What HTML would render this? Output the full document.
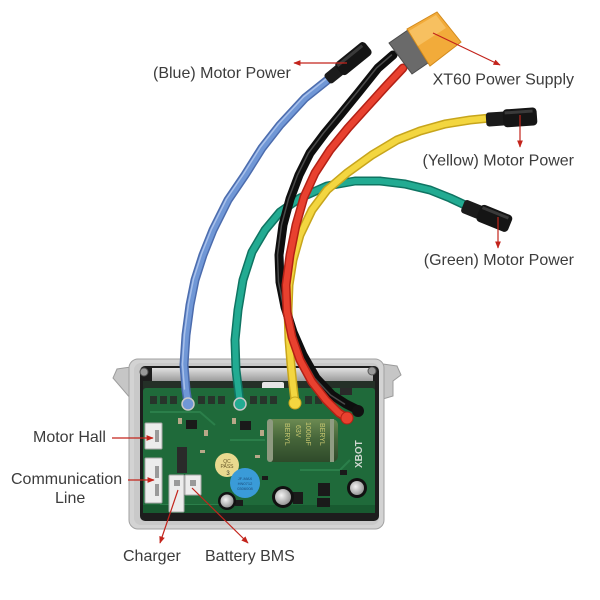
<!DOCTYPE html>
<html><head><meta charset="utf-8"><style>
html,body{margin:0;padding:0;background:#fff;}
svg{display:block;}
.lbl{font-family:"Liberation Sans",Arial,sans-serif;font-size:16px;fill:#3c3c3c;}
</style></head><body>
<svg width="600" height="600" viewBox="0 0 600 600" xmlns="http://www.w3.org/2000/svg">
<defs>
<marker id="ah" viewBox="0 0 10 10" refX="9" refY="5" markerWidth="6" markerHeight="6" orient="auto">
<path d="M0,1 L10,5 L0,9 Z" fill="#c3241c"/></marker>
<linearGradient id="hs" x1="0" y1="0" x2="0" y2="1"><stop offset="0" stop-color="#e0e0e0"/><stop offset="1" stop-color="#9c9c9c"/></linearGradient>
<linearGradient id="cap" x1="0" y1="0" x2="0" y2="1"><stop offset="0" stop-color="#6c8a52"/><stop offset=".45" stop-color="#46663a"/><stop offset="1" stop-color="#2f4a2a"/></linearGradient>
<radialGradient id="sil" cx=".4" cy=".4" r=".6"><stop offset="0" stop-color="#f4f4f4"/><stop offset="1" stop-color="#9a9a9a"/></radialGradient>
</defs>
<rect width="600" height="600" fill="#fff"/>

<!-- housing -->
<path d="M131,367 L117,369 L113,378 L131,399 Z" fill="#c6c6c6" stroke="#9c9c9c"/>
<path d="M383,364 L397,366 L401,375 L393,381 L393,396 L383,399 Z" fill="#c6c6c6" stroke="#9c9c9c"/>
<rect x="129" y="359" width="255" height="170" rx="9" fill="#d3d3d3" stroke="#a2a2a2"/>
<rect x="134" y="363" width="245" height="162" rx="7" fill="#c9c9c9"/>
<rect x="140" y="366" width="239" height="155" rx="5" fill="#1d1d1d"/>
<rect x="152" y="368" width="221" height="13" fill="url(#hs)"/>
<circle cx="144" cy="372" r="4" fill="#9a9a9a" stroke="#555"/>
<circle cx="372" cy="371" r="4" fill="#9a9a9a" stroke="#555"/>
<rect x="143" y="381" width="232" height="10" fill="#243027"/>
<rect x="262" y="382" width="22" height="10" rx="2" fill="#e6e6e6"/>
<!-- pcb -->
<rect x="143" y="388" width="232" height="125" rx="3" fill="#1f6a3a"/>
<path d="M150,412 L200,412 L215,425 M230,440 L265,440 M300,470 L340,470 L350,460 M160,505 L230,505" stroke="#2b7f4a" stroke-width="2" fill="none"/>
<rect x="143" y="505" width="232" height="8" fill="#185a30"/>
<!-- mosfet row -->
<g fill="#27352b">
<rect x="150" y="396" width="7" height="8"/><rect x="160" y="396" width="7" height="8"/><rect x="170" y="396" width="7" height="8"/><rect x="198" y="396" width="7" height="8"/><rect x="208" y="396" width="7" height="8"/><rect x="218" y="396" width="7" height="8"/><rect x="250" y="396" width="7" height="8"/><rect x="260" y="396" width="7" height="8"/><rect x="270" y="396" width="7" height="8"/><rect x="305" y="396" width="7" height="8"/><rect x="315" y="396" width="7" height="8"/>
</g>
<rect x="340" y="388" width="12" height="7" fill="#2a2a2a"/>
<!-- chips -->
<g fill="#1a1a1a">
<rect x="186" y="420" width="11" height="9"/><rect x="240" y="421" width="11" height="9"/>
<rect x="293" y="492" width="10" height="12"/><rect x="318" y="483" width="12" height="13"/><rect x="317" y="498" width="13" height="9"/>
<rect x="177" y="447" width="10" height="26" fill="#2a2a2a"/>
<rect x="235" y="500" width="8" height="6"/><rect x="340" y="470" width="7" height="5"/><rect x="262" y="476" width="6" height="4"/>
</g>
<g fill="#b8a888"><rect x="178" y="418" width="4" height="6"/><rect x="204" y="430" width="4" height="6"/><rect x="232" y="418" width="4" height="6"/><rect x="260" y="430" width="4" height="6"/><rect x="200" y="450" width="5" height="3"/><rect x="255" y="455" width="5" height="3"/></g>
<!-- connectors -->
<g fill="#ececec" stroke="#a8a8a8" stroke-width="1">
<rect x="145" y="423" width="17" height="26" rx="1"/>
<rect x="145" y="458" width="17" height="45" rx="1"/>
<rect x="169" y="475" width="15" height="37" rx="1"/>
<rect x="185" y="475" width="16" height="20" rx="1"/>
</g>
<g fill="#9a9a9a"><rect x="155" y="430" width="4" height="12"/><rect x="155" y="466" width="4" height="12"/><rect x="155" y="484" width="4" height="12"/><rect x="174" y="480" width="6" height="6"/><rect x="190" y="480" width="6" height="6"/></g>
<!-- big capacitor -->
<rect x="267" y="419" width="71" height="43" rx="6" fill="url(#cap)"/>
<rect x="267" y="419" width="6" height="43" rx="3" fill="#8e9a80"/>
<rect x="330" y="419" width="4" height="43" fill="#8f9c82"/>
<g font-family="Liberation Sans,sans-serif" font-size="7" fill="#c9c870">
<text transform="translate(285,423) rotate(90)">BERYL</text>
<text transform="translate(296,425) rotate(90)">63V</text>
<text transform="translate(306,422) rotate(90)">1000uF</text>
<text transform="translate(320,423) rotate(90)">BERYL</text>
</g>
<text transform="translate(362,468) rotate(-90)" font-family="Liberation Sans,sans-serif" font-size="10" fill="#cfd8d0" font-weight="bold">XBOT</text>
<!-- buzzer and blue -->
<circle cx="227" cy="465" r="12" fill="#e9d98f"/>
<text x="227" y="463" font-family="Liberation Sans,sans-serif" font-size="5" fill="#6a5a2a" text-anchor="middle">QC</text>
<text x="227" y="468" font-family="Liberation Sans,sans-serif" font-size="5" fill="#6a5a2a" text-anchor="middle">PASS</text>
<text x="228" y="475" font-family="Liberation Sans,sans-serif" font-size="6" fill="#3a3a2a" text-anchor="middle">3</text>
<circle cx="245" cy="483" r="15" fill="#3a9bd8"/>
<text x="245" y="480" font-family="Liberation Sans,sans-serif" font-size="4" fill="#1a4a7a" text-anchor="middle">JF-MAX</text>
<text x="245" y="485" font-family="Liberation Sans,sans-serif" font-size="4" fill="#1a4a7a" text-anchor="middle">HN0712</text>
<text x="245" y="490" font-family="Liberation Sans,sans-serif" font-size="4" fill="#1a4a7a" text-anchor="middle">0306008</text>
<!-- silver caps -->
<circle cx="227" cy="501" r="9" fill="#111"/><circle cx="227" cy="501" r="6.5" fill="url(#sil)"/>
<circle cx="283" cy="497" r="11" fill="#111"/><circle cx="283" cy="497" r="8" fill="url(#sil)"/>
<circle cx="357" cy="488" r="10" fill="#111"/><circle cx="357" cy="488" r="7" fill="url(#sil)"/>

<!-- wires -->
<g fill="none" stroke-linecap="round" stroke-linejoin="round">
<!-- green -->
<polyline points="465,205 450,198 430,190 405,184 380,181 355,181 327,186 300,198 280,212 265,230 252,252 243,280 238,310 235,340 236,370 240,403" stroke="#0f7462" stroke-width="9"/>
<polyline points="465,205 450,198 430,190 405,184 380,181 355,181 327,186 300,198 280,212 265,230 252,252 243,280 238,310 235,340 236,370 240,403" stroke="#22ab92" stroke-width="6"/>
<!-- blue -->
<polyline points="330,78 305,98 280,125 262,148 245,175 228,200 213,230 203,255 195,280 190,305 186,335 184,365 186,390 188,403" stroke="#4c6cad" stroke-width="9"/>
<polyline points="330,78 305,98 280,125 262,148 245,175 228,200 213,230 203,255 195,280 190,305 186,335 184,365 186,390 188,403" stroke="#7097d6" stroke-width="6"/>
<polyline points="330,78 305,98 280,125 262,148 245,175 228,200 213,230 203,255 195,280 190,305 186,335 184,365 186,390" stroke="#a8c0ea" stroke-width="1.5" transform="translate(-1.5,-1)"/>
<!-- yellow -->
<polyline points="490,118 470,120 445,124 420,131 397,140 372,155 347,173 327,190 312,210 300,235 293,260 289,285 288,310 289,340 291,365 293,385 295,402" stroke="#c7a51c" stroke-width="9"/>
<polyline points="490,118 470,120 445,124 420,131 397,140 372,155 347,173 327,190 312,210 300,235 293,260 289,285 288,310 289,340 291,365 293,385 295,402" stroke="#f3d640" stroke-width="6"/>
<!-- black -->
<polyline points="393,55 378,68 358,93 340,115 325,133 310,153 299,175 290,199 283,225 279,255 280,282 285,307 293,332 303,355 316,378 332,395 346,404 358,410" stroke="#0e0e0e" stroke-width="9"/>
<polyline points="393,55 378,68 358,93 340,115 325,133 310,153 299,175 290,199 283,225 279,255 280,282 285,307 293,332 303,355 316,378 332,395 346,404" stroke="#4a4a4a" stroke-width="1.5" transform="translate(-1.5,0)"/>
<!-- red -->
<polyline points="403,68 387,85 367,107 348,128 330,150 315,173 304,197 296,225 290,255 286,285 287,312 292,337 300,360 312,382 326,400 339,413 347,418" stroke="#b32015" stroke-width="9"/>
<polyline points="403,68 387,85 367,107 348,128 330,150 315,173 304,197 296,225 290,255 286,285 287,312 292,337 300,360 312,382 326,400 339,413 347,418" stroke="#e8412f" stroke-width="6"/>
</g>
<!-- wire ends on board -->
<circle cx="188" cy="404" r="6" fill="#7097d6" stroke="#c8c8c8" stroke-width="1.5"/>
<circle cx="240" cy="404" r="6" fill="#22ab92" stroke="#c8c8c8" stroke-width="1.5"/>
<circle cx="295" cy="403" r="6" fill="#f3d640" stroke="#c7a51c"/>
<circle cx="358" cy="411" r="6" fill="#111"/>
<circle cx="347" cy="418" r="6" fill="#e8412f" stroke="#b32015"/>

<!-- blue connector -->
<g transform="translate(348,63) rotate(-39)">
<rect x="-27" y="-6" width="18" height="12" rx="3" fill="#1b1b1b"/>
<rect x="-12" y="-8" width="38" height="16" rx="4" fill="#151515"/>
<rect x="-10" y="-6" width="32" height="3" fill="#3a3a3a"/>
</g>
<!-- yellow connector -->
<g transform="translate(511,118) rotate(-4)">
<rect x="-25" y="-7" width="20" height="14" rx="3" fill="#1b1b1b"/>
<rect x="-8" y="-9" width="34" height="18" rx="4" fill="#151515"/>
<rect x="-6" y="-7" width="28" height="3" fill="#3a3a3a"/>
</g>
<!-- green connector -->
<g transform="translate(486,215) rotate(22)">
<rect x="-25" y="-7" width="20" height="14" rx="3" fill="#1b1b1b"/>
<rect x="-8" y="-9" width="34" height="18" rx="4" fill="#151515"/>
<rect x="-6" y="-7" width="28" height="3" fill="#3a3a3a"/>
</g>
<!-- XT60 -->
<polygon points="389,43 408,30 428,63 412,74" fill="#6a6a6a" stroke="#4a4a4a"/>
<polygon points="407,29 437,12 461,42 430,66" fill="#f2ab3a" stroke="#d28a1c"/>
<polygon points="409,31 436,15 446,28 418,46" fill="#f7c060"/>

<!-- arrows -->
<g stroke="#c3241c" stroke-width="1.2" fill="none" marker-end="url(#ah)">
<line x1="347" y1="63" x2="294" y2="63"/>
<line x1="433" y1="33" x2="500" y2="65"/>
<line x1="520" y1="115" x2="520" y2="147"/>
<line x1="498" y1="217" x2="498" y2="248"/>
<line x1="112" y1="438" x2="153" y2="438"/>
<line x1="128" y1="480" x2="154" y2="480"/>
<line x1="178" y1="490" x2="160" y2="543"/>
<line x1="192" y1="488" x2="248" y2="543"/>
</g>

<!-- labels -->
<text class="lbl" x="153" y="78">(Blue) Motor Power</text>
<text class="lbl" x="574" y="84.5" text-anchor="end">XT60 Power Supply</text>
<text class="lbl" x="574" y="165.5" text-anchor="end">(Yellow) Motor Power</text>
<text class="lbl" x="574" y="265" text-anchor="end">(Green) Motor Power</text>
<text class="lbl" x="33" y="442">Motor Hall</text>
<text class="lbl" x="11" y="484">Communication</text>
<text class="lbl" x="55" y="503">Line</text>
<text class="lbl" x="123" y="561">Charger</text>
<text class="lbl" x="205" y="561">Battery BMS</text>
</svg>
</body></html>
